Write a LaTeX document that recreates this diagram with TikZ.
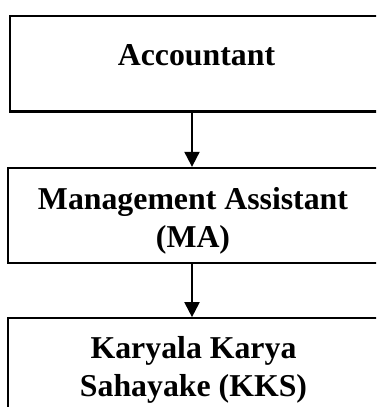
\documentclass[tikz,border=0pt]{standalone}
\usepackage{fontspec}
\setmainfont{Liberation Serif}
\usetikzlibrary{positioning,arrows.meta}
\tikzset{
stage/.style={rectangle,draw,line width=2.3pt,inner sep=0pt,minimum width=368pt,minimum height=95.5pt},
stagetext/.style={font=\bfseries\fontsize{31.8}{38}\selectfont,align=center,anchor=base,inner sep=0pt},
flow/.style={-{Triangle[width=15pt,length=15pt]},line width=2pt},
}

\begin{document}
\begin{tikzpicture}[x=1pt,y=1pt]
	\clip (0,0) rectangle (376,-407);
	\useasboundingbox (0,0) rectangle (376,-407);

	\node[stage] (acc) at (194,-63.75) {};
	\node[stage,below=54.2pt of acc,minimum width=372pt,minimum height=95.3pt] (ma) {};
	\node[stage,below=52.7pt of ma,minimum width=372pt,minimum height=120pt,anchor=north] (kks) {};

	% base anchor sits on the last line
	\node[stagetext] (acctext) at ([xshift=2.5pt,yshift=-51pt]acc.north) {Accountant};
	\node[stagetext] (matext) at ([xshift=-1pt,yshift=-80.15pt]ma.north) {Management Assistant\\(MA)};
	\node[stagetext] (kkstext) at ([xshift=-0.5pt,yshift=-78.85pt]kks.north) {Karyala Karya\\Sahayake (KKS)};

	\draw[flow] ([xshift=-2pt]acc.south) -- ([xshift=-2pt]ma.north);
	\draw[flow] ([xshift=-2pt]ma.south) -- ([xshift=-2pt]kks.north);
\end{tikzpicture}
\end{document}
